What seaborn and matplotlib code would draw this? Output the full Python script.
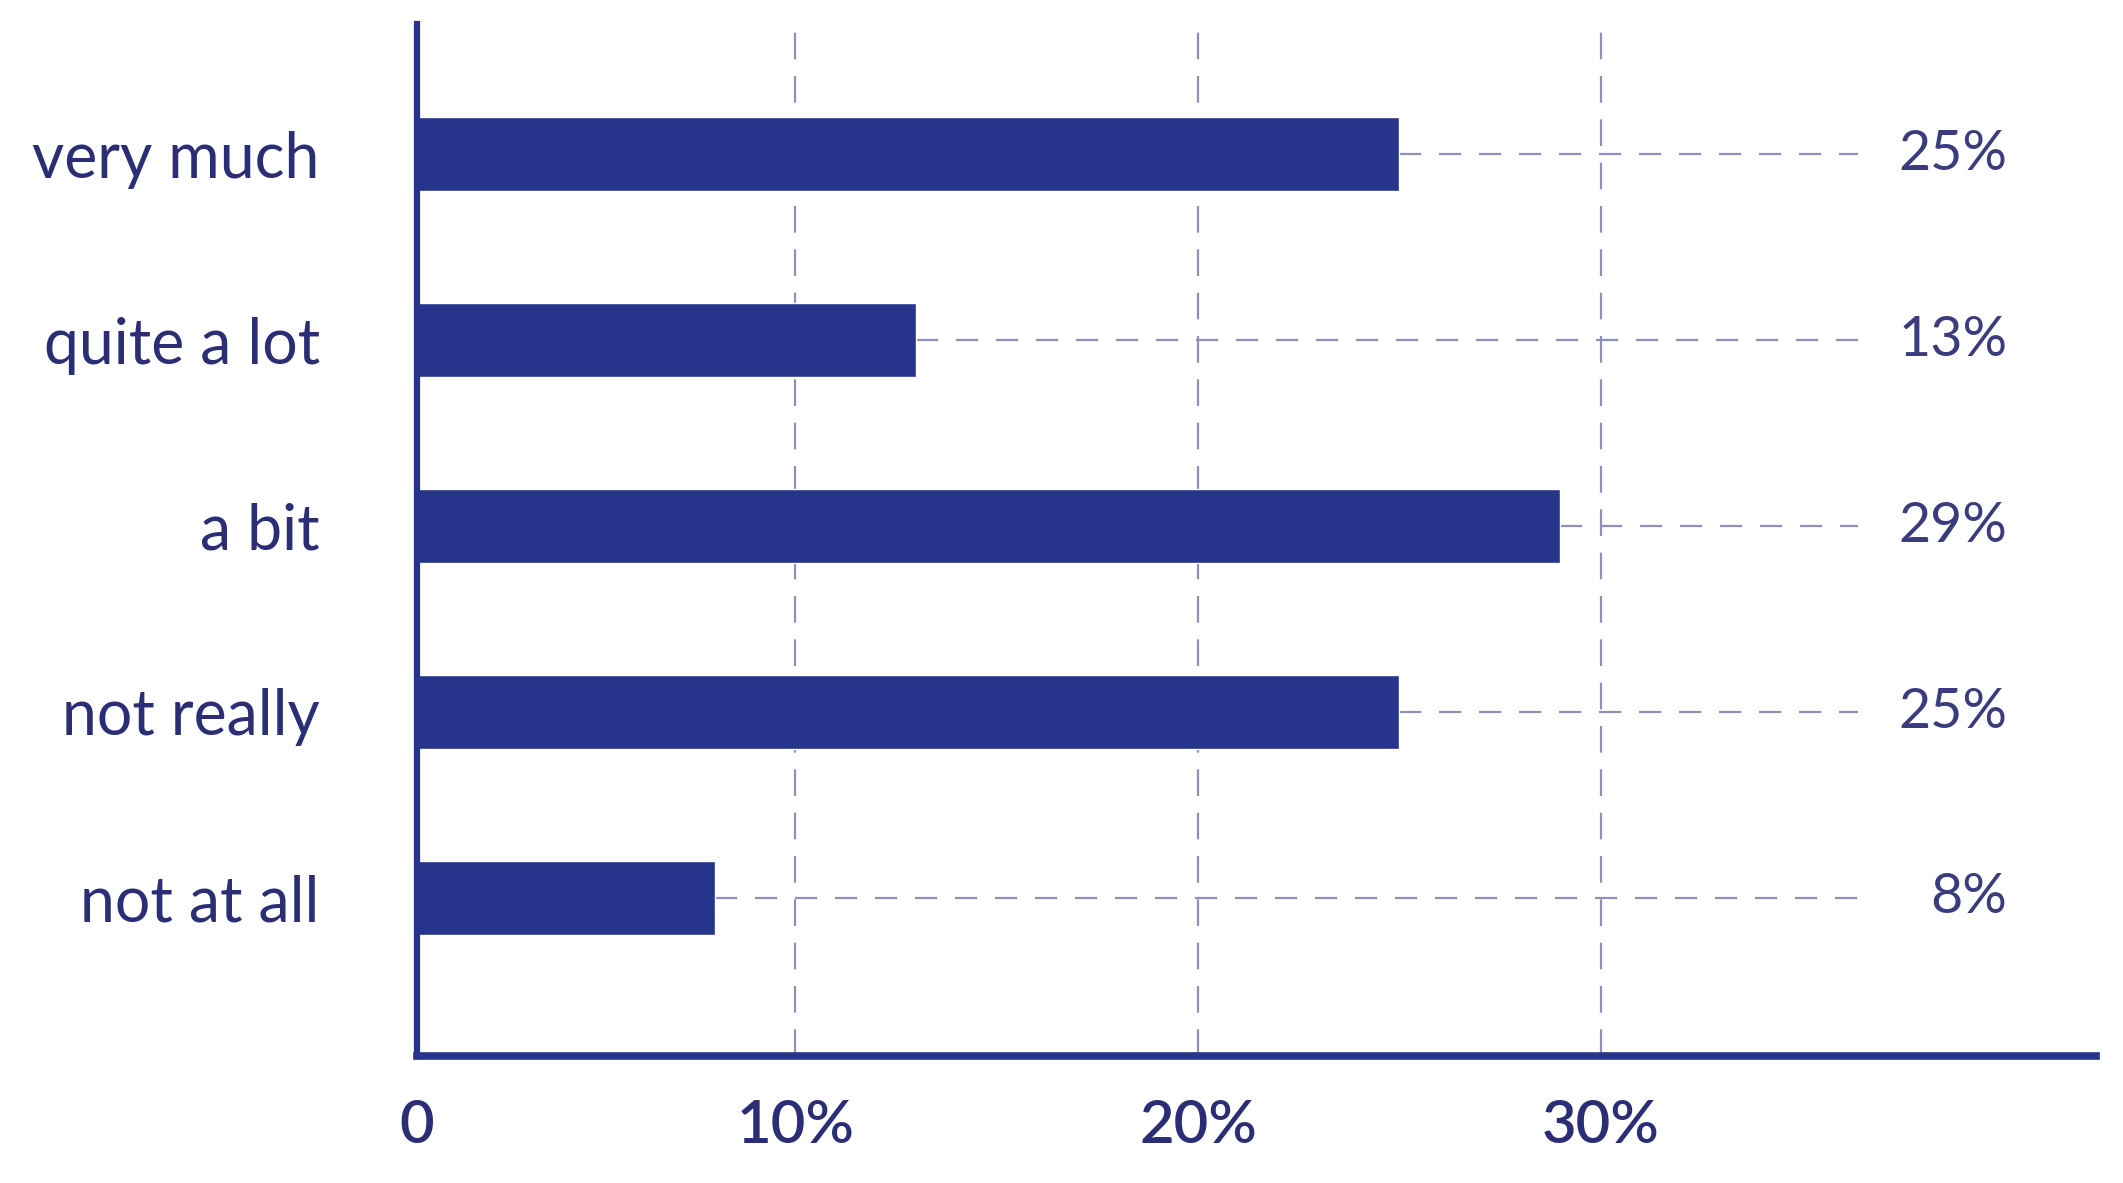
import matplotlib
matplotlib.use("Agg")
import matplotlib.pyplot as plt
import seaborn as sns
import pandas as pd

# ---- data ----
categories = ["very much", "quite a lot", "a bit", "not really", "not at all"]
values = [25, 13, 29, 25, 8]
value_labels = ["25%", "13%", "29%", "25%", "8%"]
tick_values = [10, 20, 30]
tick_labels = ["0", "10%", "20%", "30%"]

# ---- style ----
BAR = "#27348b"
NAVY = "#2b2e74"
GRID = "#8d90b8"
FONT = ["Lato", "DejaVu Sans"]

sns.set_theme(style="white")
plt.rcParams["font.family"] = FONT

df = pd.DataFrame({"category": categories, "value": values})

fig = plt.figure(figsize=(21.23, 11.83), dpi=100)
ax = fig.add_axes([417 / 2123, 1 - 1056 / 1183, (2096 - 417) / 2123, (1056 - 24) / 1183])

sns.barplot(data=df, x="value", y="category", orient="h", color=BAR,
            saturation=1, width=0.40, ax=ax, zorder=3)

x_left, x_right = 0.6, 42.3
ax.set_xlim(x_left, x_right)
ax.set_ylim(4.85, -0.70)

# vertical dashed grid
for t in tick_values:
    ax.axvline(t, color=GRID, lw=1.6, linestyle=(0, (12, 7.5)), zorder=1)

# leader lines and value labels
lead_end = 36.4
for i, (v, lab) in enumerate(zip(values, value_labels)):
    ax.hlines(i, v, lead_end, color=GRID, lw=1.6, linestyles=(0, (10, 8)), zorder=2)
    ax.text(40.1, i, lab, ha="right", va="center", fontsize=40,
            color="#3a3c7e", family=FONT, fontweight="normal")

# spines
for s in ["top", "right"]:
    ax.spines[s].set_visible(False)
ax.spines["left"].set_color(BAR)
ax.spines["left"].set_linewidth(4.5)
ax.spines["bottom"].set_color(BAR)
ax.spines["bottom"].set_linewidth(5.5)
ax.spines["left"].set_zorder(4)

# ticks
ax.set_xticks([x_left] + tick_values)
ax.set_xticklabels(tick_labels)
ax.tick_params(axis="x", length=0, pad=31, labelsize=43, labelcolor=NAVY)
for lbl in ax.get_xticklabels():
    lbl.set_fontweight("semibold")
ax.tick_params(axis="y", length=0, pad=70, labelsize=45, labelcolor=NAVY)
ax.set_xlabel("")
ax.set_ylabel("")
ax.grid(False)

fig.savefig("out.png", dpi=100, facecolor="white")
